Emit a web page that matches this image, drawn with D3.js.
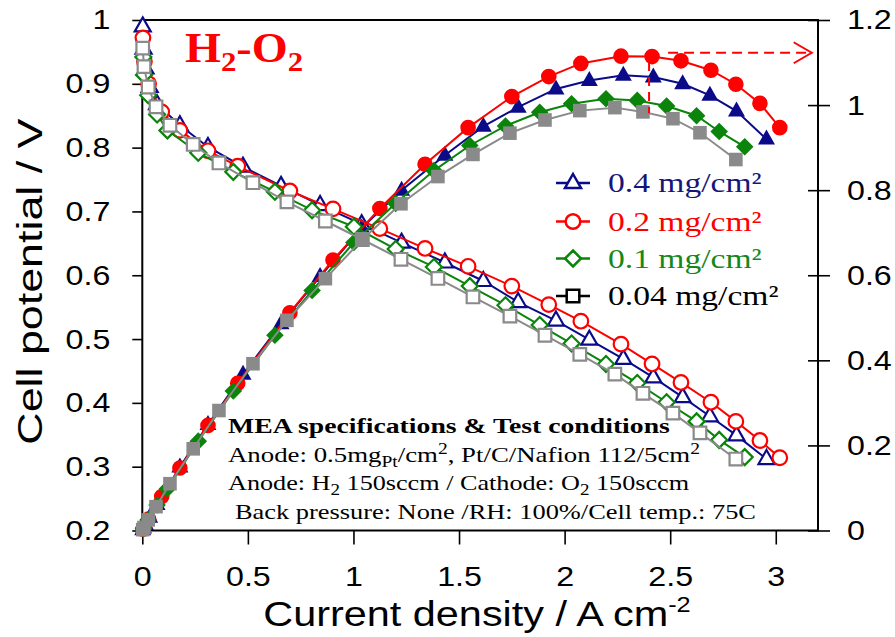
<!DOCTYPE html>
<html><head><meta charset="utf-8">
<script src="https://cdn.jsdelivr.net/npm/d3@7"></script>
<style>body{margin:0;background:#fff}svg{display:block}</style>
</head><body>
<svg id="chart" width="895" height="637"></svg>
<script>
// ---------------- DATA ----------------
const xTicks = [0, 0.5, 1, 1.5, 2, 2.5, 3];
const xTickLabels = ["0", "0.5", "1", "1.5", "2", "2.5", "3"];
const yLeftTicks = [0.2, 0.3, 0.4, 0.5, 0.6, 0.7, 0.8, 0.9, 1.0];
const yLeftTickLabels = ["0.2", "0.3", "0.4", "0.5", "0.6", "0.7", "0.8", "0.9", "1"];
const yRightTicks = [0, 0.2, 0.4, 0.6, 0.8, 1.0, 1.2];
const yRightTickLabels = ["0", "0.2", "0.4", "0.6", "0.8", "1", "1.2"];

const seriesLabels = ["0.4 mg/cm\u00B2", "0.2 mg/cm\u00B2", "0.1 mg/cm\u00B2", "0.04 mg/cm\u00B2"];

// 0.4 mg/cm2
const current04 = [0.002, 0.006, 0.015, 0.035, 0.07, 0.178, 0.311, 0.477, 0.657, 0.842, 1.039, 1.228, 1.433, 1.615, 1.78, 1.959, 2.117, 2.278, 2.42, 2.559, 2.688, 2.814, 2.956];
const voltage04 = [0.99, 0.955, 0.924, 0.895, 0.868, 0.835, 0.801, 0.77, 0.74, 0.71, 0.68, 0.651, 0.62, 0.591, 0.558, 0.529, 0.499, 0.469, 0.44, 0.409, 0.379, 0.349, 0.312];
const power04 = [0.002, 0.006, 0.014, 0.031, 0.061, 0.149, 0.249, 0.367, 0.486, 0.597, 0.711, 0.8, 0.882, 0.95, 0.995, 1.038, 1.058, 1.07, 1.066, 1.05, 1.023, 0.986, 0.92];

// 0.2 mg/cm2
const current02 = [0.003, 0.01, 0.03, 0.092, 0.178, 0.311, 0.452, 0.699, 0.903, 1.125, 1.339, 1.543, 1.75, 1.925, 2.077, 2.267, 2.414, 2.551, 2.693, 2.811, 2.925, 3.019];
const voltage02 = [0.972, 0.935, 0.9, 0.856, 0.827, 0.795, 0.771, 0.732, 0.704, 0.673, 0.642, 0.614, 0.583, 0.554, 0.528, 0.492, 0.461, 0.432, 0.401, 0.371, 0.341, 0.314];
const power02 = [0.003, 0.009, 0.027, 0.08, 0.147, 0.247, 0.346, 0.512, 0.636, 0.757, 0.861, 0.947, 1.02, 1.067, 1.098, 1.115, 1.114, 1.104, 1.082, 1.049, 1.004, 0.947];

// 0.1 mg/cm2
const current01 = [0.005, 0.008, 0.028, 0.07, 0.119, 0.265, 0.431, 0.628, 0.804, 1.002, 1.2, 1.381, 1.551, 1.72, 1.882, 2.033, 2.196, 2.344, 2.483, 2.625, 2.732, 2.853];
const voltage01 = [0.942, 0.914, 0.882, 0.852, 0.827, 0.792, 0.762, 0.731, 0.702, 0.676, 0.641, 0.613, 0.583, 0.553, 0.522, 0.493, 0.461, 0.431, 0.401, 0.371, 0.342, 0.315];
const power01 = [0.005, 0.007, 0.025, 0.06, 0.098, 0.21, 0.328, 0.459, 0.564, 0.677, 0.769, 0.846, 0.905, 0.951, 0.983, 1.003, 1.015, 1.011, 0.998, 0.975, 0.938, 0.902];

// 0.04 mg/cm2
const current004 = [0.002, 0.008, 0.028, 0.065, 0.131, 0.241, 0.363, 0.524, 0.685, 0.867, 1.042, 1.225, 1.4, 1.566, 1.741, 1.907, 2.072, 2.238, 2.371, 2.513, 2.641, 2.811];
const voltage004 = [0.956, 0.927, 0.895, 0.864, 0.835, 0.805, 0.776, 0.745, 0.715, 0.685, 0.656, 0.625, 0.595, 0.566, 0.536, 0.506, 0.476, 0.445, 0.415, 0.384, 0.353, 0.312];
const power004 = [0.002, 0.007, 0.025, 0.056, 0.11, 0.192, 0.282, 0.392, 0.494, 0.592, 0.684, 0.768, 0.832, 0.884, 0.934, 0.965, 0.987, 0.994, 0.984, 0.968, 0.935, 0.872];

// annotation (dashed arrow, data units)
const arrowVertical = {x: 2.4, y1: 1.101, y2: 0.981};
const arrowHorizontal = {x1: 2.49, x2: 3.17, y: 1.123};

// ---------------- CHART ----------------
const svg = d3.select("#chart");
const SANS = "'Liberation Sans', Arial, sans-serif";
const SERIF = "'Liberation Serif', 'Times New Roman', serif";
const SX = 1.15; // horizontal text stretch

const x = d3.scaleLinear().domain([0, 3.2]).range([142.3, 818]);
const yL = d3.scaleLinear().domain([0.2, 1.0]).range([530.5, 20]);
const yR = d3.scaleLinear().domain([0, 1.2]).range([530.5, 20]);

const styles = [
  {color: "#0b0b8a", text: "#16167a", shape: "tri", legendLine: "#0b0b8a"},
  {color: "#ff0000", text: "#ff0000", shape: "circle", legendLine: "#ff0000"},
  {color: "#0a840a", text: "#16881a", shape: "diamond", legendLine: "#0a840a"},
  {color: "#8a8a8a", text: "#000000", shape: "square", legendLine: "#000000"}
];

const series = [
  {I: current04, V: voltage04, P: power04},
  {I: current02, V: voltage02, P: power02},
  {I: current01, V: voltage01, P: power01},
  {I: current004, V: voltage004, P: power004}
];

function shapePath(shape, filled) {
  if (shape === "tri") return filled ? "M0,-9.5L8.5,5.5L-8.5,5.5Z" : "M0,-9L8,5L-8,5Z";
  if (shape === "circle") { const r = filled ? 7.8 : 7.3; return `M${r},0A${r},${r} 0 1,1 ${-r},0A${r},${r} 0 1,1 ${r},0Z`; }
  if (shape === "diamond") { const d = filled ? 8.8 : 8; return `M0,${-d}L${d},0L0,${d}L${-d},0Z`; }
  const s = filled ? 6.8 : 6.3; return `M${-s},${-s}L${s},${-s}L${s},${s}L${-s},${s}Z`;
}

// frame
svg.append("rect").attr("x", x(0)).attr("y", yL(1)).attr("width", x(3.2) - x(0)).attr("height", yL(0.2) - yL(1))
  .attr("fill", "none").attr("stroke", "#000").attr("stroke-width", 2);

function styleTicks(g) {
  g.select(".domain").remove();
  g.selectAll("line").attr("stroke", "#000").attr("stroke-width", 1.6);
  g.selectAll("text").each(function() {
    const t = d3.select(this);
    const tx = +t.attr("x") || 0;
    t.attr("x", 0).attr("transform", `translate(${tx},0) scale(${SX},1)`)
     .attr("fill", "#000").style("font-family", SANS).style("font-size", "28px");
  });
}

const gx = svg.append("g").attr("transform", `translate(0,${yL(0.2)})`)
  .call(d3.axisBottom(x).tickValues(xTicks).tickFormat((d, i) => xTickLabels[i]).tickSize(14).tickPadding(22));
styleTicks(gx);

const gl = svg.append("g").attr("transform", `translate(${x(0)},0)`)
  .call(d3.axisLeft(yL).tickValues(yLeftTicks).tickFormat((d, i) => yLeftTickLabels[i]).tickSize(10).tickPadding(22));
styleTicks(gl);

const gr = svg.append("g").attr("transform", `translate(${x(3.2)},0)`)
  .call(d3.axisRight(yR).tickValues(yRightTicks).tickFormat((d, i) => yRightTickLabels[i]).tickSize(12).tickPadding(17));
styleTicks(gr);
gr.selectAll("line").attr("x1", -10).attr("x2", 12);

// axis titles
const xt = svg.append("g").attr("transform", `translate(${x(1.585)},626) scale(${SX},1)`)
  .append("text").attr("text-anchor", "middle").style("font-family", SANS).style("font-size", "36px").attr("fill", "#000");
xt.append("tspan").text("Current density / A cm");
xt.append("tspan").attr("dy", -14).style("font-size", "22px").text("-2");

svg.append("g").attr("transform", `translate(42,${yL(0.59)}) scale(1,1.28) rotate(-90)`)
  .append("text").attr("text-anchor", "middle").style("font-family", SANS).style("font-size", "35px").attr("fill", "#000")
  .text("Cell potential / V");

// curves
const linePol = d3.line().x(d => x(d[0])).y(d => yL(d[1]));
const linePow = d3.line().x(d => x(d[0])).y(d => yR(d[1]));

series.forEach((s, k) => {
  const st = styles[k];
  const pol = s.I.map((v, i) => [v, s.V[i]]);
  const pow = s.I.map((v, i) => [v, s.P[i]]);
  const g = svg.append("g");
  g.append("path").attr("d", linePol(pol)).attr("fill", "none").attr("stroke", st.color).attr("stroke-width", 2);
  g.selectAll(".pm").data(pol).join("path").attr("class", "pm")
    .attr("transform", d => `translate(${x(d[0])},${yL(d[1])})`)
    .attr("d", shapePath(st.shape, false)).attr("fill", "#fff").attr("stroke", st.color).attr("stroke-width", 2.2);
  g.append("path").attr("d", linePow(pow)).attr("fill", "none").attr("stroke", st.color).attr("stroke-width", 2);
  g.selectAll(".wm").data(pow).join("path").attr("class", "wm")
    .attr("transform", d => `translate(${x(d[0])},${yR(d[1])})`)
    .attr("d", shapePath(st.shape, true)).attr("fill", st.color).attr("stroke", "none");
});

// dashed arrow annotation
const arrowG = svg.append("g").attr("stroke", "#ff0000").attr("stroke-width", 2).attr("fill", "none");
arrowG.append("line").attr("x1", x(arrowVertical.x)).attr("x2", x(arrowVertical.x))
  .attr("y1", yR(arrowVertical.y1)).attr("y2", yR(arrowVertical.y2)).attr("stroke-dasharray", "9,6");
arrowG.append("line").attr("x1", x(arrowHorizontal.x1)).attr("x2", x(arrowHorizontal.x2) - 2)
  .attr("y1", yR(arrowHorizontal.y)).attr("y2", yR(arrowHorizontal.y)).attr("stroke-dasharray", "10,6");
const tipX = x(arrowHorizontal.x2), tipY = yR(arrowHorizontal.y);
arrowG.append("path").attr("d", `M${tipX - 18},${tipY - 10.5}L${tipX},${tipY}L${tipX - 18},${tipY + 10.5}`);

// title H2-O2
const title = svg.append("g").attr("transform", `translate(185,62) scale(1.1,1)`)
  .append("text").style("font-family", SERIF).style("font-weight", "bold").style("font-size", "42px").attr("fill", "#ff0000");
title.append("tspan").text("H");
title.append("tspan").attr("dy", 9).style("font-size", "28px").text("2");
title.append("tspan").attr("dy", -9).text("-O");
title.append("tspan").attr("dy", 9).style("font-size", "28px").text("2");

// legend
const legendY = [183, 221.5, 258.5, 296];
styles.forEach((st, i) => {
  const lg = svg.append("g").attr("transform", `translate(0,${legendY[i]})`);
  lg.append("line").attr("x1", 556).attr("x2", 590).attr("stroke", st.legendLine).attr("stroke-width", 2.5);
  lg.append("path").attr("transform", "translate(573,0)").attr("d", shapePath(st.shape, false))
    .attr("fill", "#fff").attr("stroke", st.legendLine).attr("stroke-width", 2.5);
  lg.append("g").attr("transform", `translate(608,9) scale(1.2,1)`)
    .append("text").style("font-family", SERIF).style("font-size", "28px").attr("fill", st.text).text(seriesLabels[i]);
});

// MEA specifications text block
function mea(xp, yp, sx, parts, bold) {
  const t = svg.append("g").attr("transform", `translate(${xp},${yp}) scale(${sx},1)`)
    .append("text").style("font-family", SERIF).style("font-size", "22px").attr("fill", "#000")
    .style("font-weight", bold ? "bold" : "normal");
  parts.forEach(p => {
    const ts = t.append("tspan").text(p.t);
    if (p.dy) ts.attr("dy", p.dy);
    if (p.fs) ts.style("font-size", p.fs);
  });
}
mea(228, 433, 1.26, [{t: "MEA specifications & Test conditions"}], true);
mea(228, 461.5, 1.22, [{t: "Anode: 0.5mg"}, {t: "Pt", dy: 5, fs: "16px"}, {t: "/cm", dy: -5}, {t: "2", dy: -8, fs: "16px"},
  {t: ", Pt/C/Nafion 112/5cm", dy: 8}, {t: "2", dy: -8, fs: "16px"}], false);
mea(228, 490, 1.19, [{t: "Anode: H"}, {t: "2", dy: 5, fs: "16px"}, {t: " 150sccm / Cathode: O", dy: -5}, {t: "2", dy: 5, fs: "16px"},
  {t: " 150sccm", dy: -5}], false);
mea(235, 518.5, 1.2, [{t: "Back pressure: None /RH: 100%/Cell temp.: 75C"}], false);
</script>
</body></html>
